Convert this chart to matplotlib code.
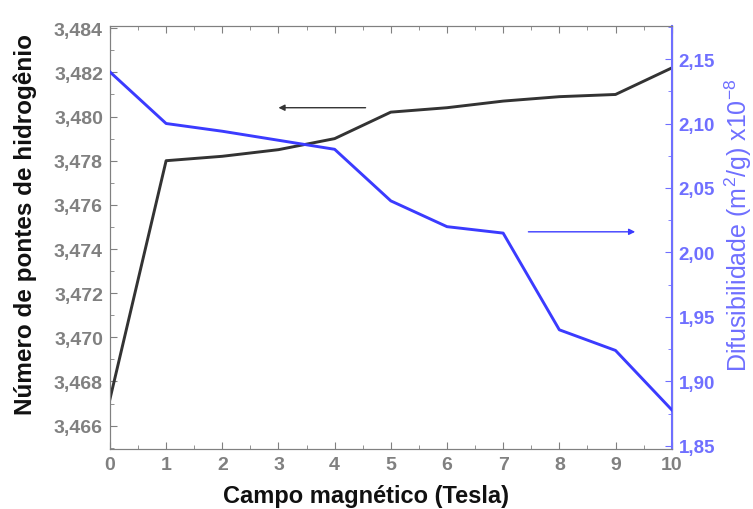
import matplotlib
matplotlib.use("Agg")
import matplotlib.pyplot as plt
from matplotlib.ticker import MultipleLocator, FuncFormatter

# dados
campo = [0, 1, 2, 3, 4, 5, 6, 7, 8, 9, 10]
pontes_h = [3.4672, 3.4780, 3.4782, 3.4785, 3.4790, 3.4802,
            3.4804, 3.4807, 3.4809, 3.4810, 3.4822]
difusibilidade = [2.140, 2.100, 2.094, 2.087, 2.080, 2.040,
                  2.020, 2.015, 1.940, 1.924, 1.878]

plt.rcParams['font.family'] = ['Liberation Sans', 'DejaVu Sans']
plt.rcParams['mathtext.fontset'] = 'custom'
plt.rcParams['mathtext.rm'] = 'Liberation Sans'

cor_preta = '#333333'
cor_azul = '#3b3bff'
cor_azul_claro = '#6f6fff'
cor_cinza = '#808080'


def virgula(fmt):
    return FuncFormatter(lambda v, pos: format(v, fmt).replace('.', ','))


fig = plt.figure(figsize=(7.53, 5.10), dpi=100)
ax1 = fig.add_axes([0.146, 0.118, 0.746, 0.829])
ax2 = ax1.twinx()

ax1.plot(campo, pontes_h, color=cor_preta, linewidth=2.1, zorder=3)
ax2.plot(campo, difusibilidade, color=cor_azul, linewidth=2.1, zorder=3)

# eixos
ax1.set_xlim(0, 10)
ax1.set_ylim(3.46495, 3.4841)
ax2.set_ylim(1.8477, 2.1756)

ax1.xaxis.set_major_locator(MultipleLocator(1))
ax1.xaxis.set_minor_locator(MultipleLocator(0.5))
ax1.yaxis.set_major_locator(MultipleLocator(0.002))
ax1.yaxis.set_minor_locator(MultipleLocator(0.001))
ax1.yaxis.set_major_formatter(virgula('.3f'))
ax2.yaxis.set_major_locator(MultipleLocator(0.05))
ax2.yaxis.set_minor_locator(MultipleLocator(0.025))
ax2.yaxis.set_major_formatter(virgula('.2f'))

ax1.tick_params(axis='both', which='both', direction='in', top=True,
                color=cor_cinza, labelcolor=cor_cinza, labelsize=14, pad=5)
ax1.tick_params(which='major', length=5)
ax1.tick_params(which='minor', length=3)
ax1.tick_params(axis='y', right=False)
ax2.tick_params(axis='y', which='both', direction='in', color=cor_azul_claro,
                labelcolor=cor_azul_claro, labelsize=13.5, pad=5)
ax2.tick_params(which='major', length=5)
ax2.tick_params(which='minor', length=3)
for lbl in ax1.get_xticklabels() + ax1.get_yticklabels() + ax2.get_yticklabels():
    lbl.set_fontweight('bold')

for lado in ['left', 'bottom', 'top']:
    ax1.spines[lado].set_color(cor_cinza)
    ax2.spines[lado].set_color(cor_cinza)
ax2.spines['right'].set_color(cor_azul_claro)
ax2.spines['right'].set_linewidth(1.5)

ax1.set_xlabel('Campo magnético (Tesla)', fontsize=17, fontweight='bold',
               color='#111111')
ax1.xaxis.set_label_coords(0.455, -0.083)
ax1.set_ylabel('Número de pontes de hidrogênio', fontsize=17.5,
               fontweight='bold', color='#111111')
ax1.yaxis.set_label_coords(-0.13, 0.532)
ax2.set_ylabel('Difusibilidade (m$^2$/g) x10$^{-8}$', fontsize=18,
               color=cor_azul_claro)
ax2.yaxis.set_label_coords(1.09, 0.532)

# setas indicando o eixo de cada curva
ax1.annotate('', xy=(2.95, 3.4804), xytext=(4.6, 3.4804),
             arrowprops=dict(arrowstyle='-|>', color=cor_preta, lw=1.0,
                             mutation_scale=9))
ax2.annotate('', xy=(9.4, 2.016), xytext=(7.4, 2.016),
             arrowprops=dict(arrowstyle='-|>', color=cor_azul, lw=1.0,
                             mutation_scale=9))

fig.savefig('out.png', dpi=100)
